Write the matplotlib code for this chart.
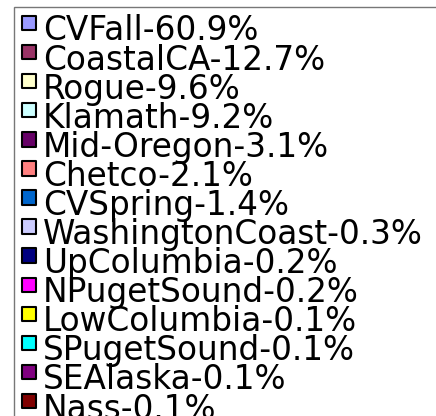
import numpy as np
import matplotlib.pyplot as plt
from matplotlib.patches import Rectangle

# stock groups and their share (%)
stocks = ["CVFall", "CoastalCA", "Rogue", "Klamath", "Mid-Oregon", "Chetco",
          "CVSpring", "WashingtonCoast", "UpColumbia", "NPugetSound",
          "LowColumbia", "SPugetSound", "SEAlaska", "Nass"]
shares = [60.9, 12.7, 9.6, 9.2, 3.1, 2.1, 1.4, 0.3, 0.2, 0.2, 0.1, 0.1, 0.1, 0.1]
colours = ["#9999FF", "#993366", "#FFFFCC", "#CCFFFF", "#660066", "#FF8080",
           "#0066CC", "#CCCCFF", "#000080", "#FF00FF", "#FFFF00", "#00FFFF",
           "#800080", "#800000"]

W, H = 436, 416
row = 29.08      # px between rows
first = 23.0     # px, centre of first key

fig = plt.figure(figsize=(W/100, H/100), dpi=100)
ax = fig.add_axes([0, 0, 1, 1])
ax.set_xlim(0, W/row)
ax.set_ylim((H - first)/row, -first/row)
ax.axis('off')

# legend frame, runs off the right and bottom edge
ax.add_patch(Rectangle((14/W, -0.2), 1.2, 1.2 - 7/H, transform=ax.transAxes,
                       fill=False, edgecolor="#777777", linewidth=1.0, clip_on=False))

idx = np.arange(len(stocks))
ax.scatter(np.full(len(idx), 29/row), idx, s=108, marker='s', c=colours,
           edgecolors='black', linewidths=1.5, zorder=3)

for i, (name, val) in enumerate(zip(stocks, shares)):
    ax.text(43/row, i + 17.5/row, f"{name}-{val}%", fontsize=23.6,
            family="DejaVu Sans", va='baseline', ha='left', color='black')

plt.savefig("out.png", dpi=100)
plt.close()
